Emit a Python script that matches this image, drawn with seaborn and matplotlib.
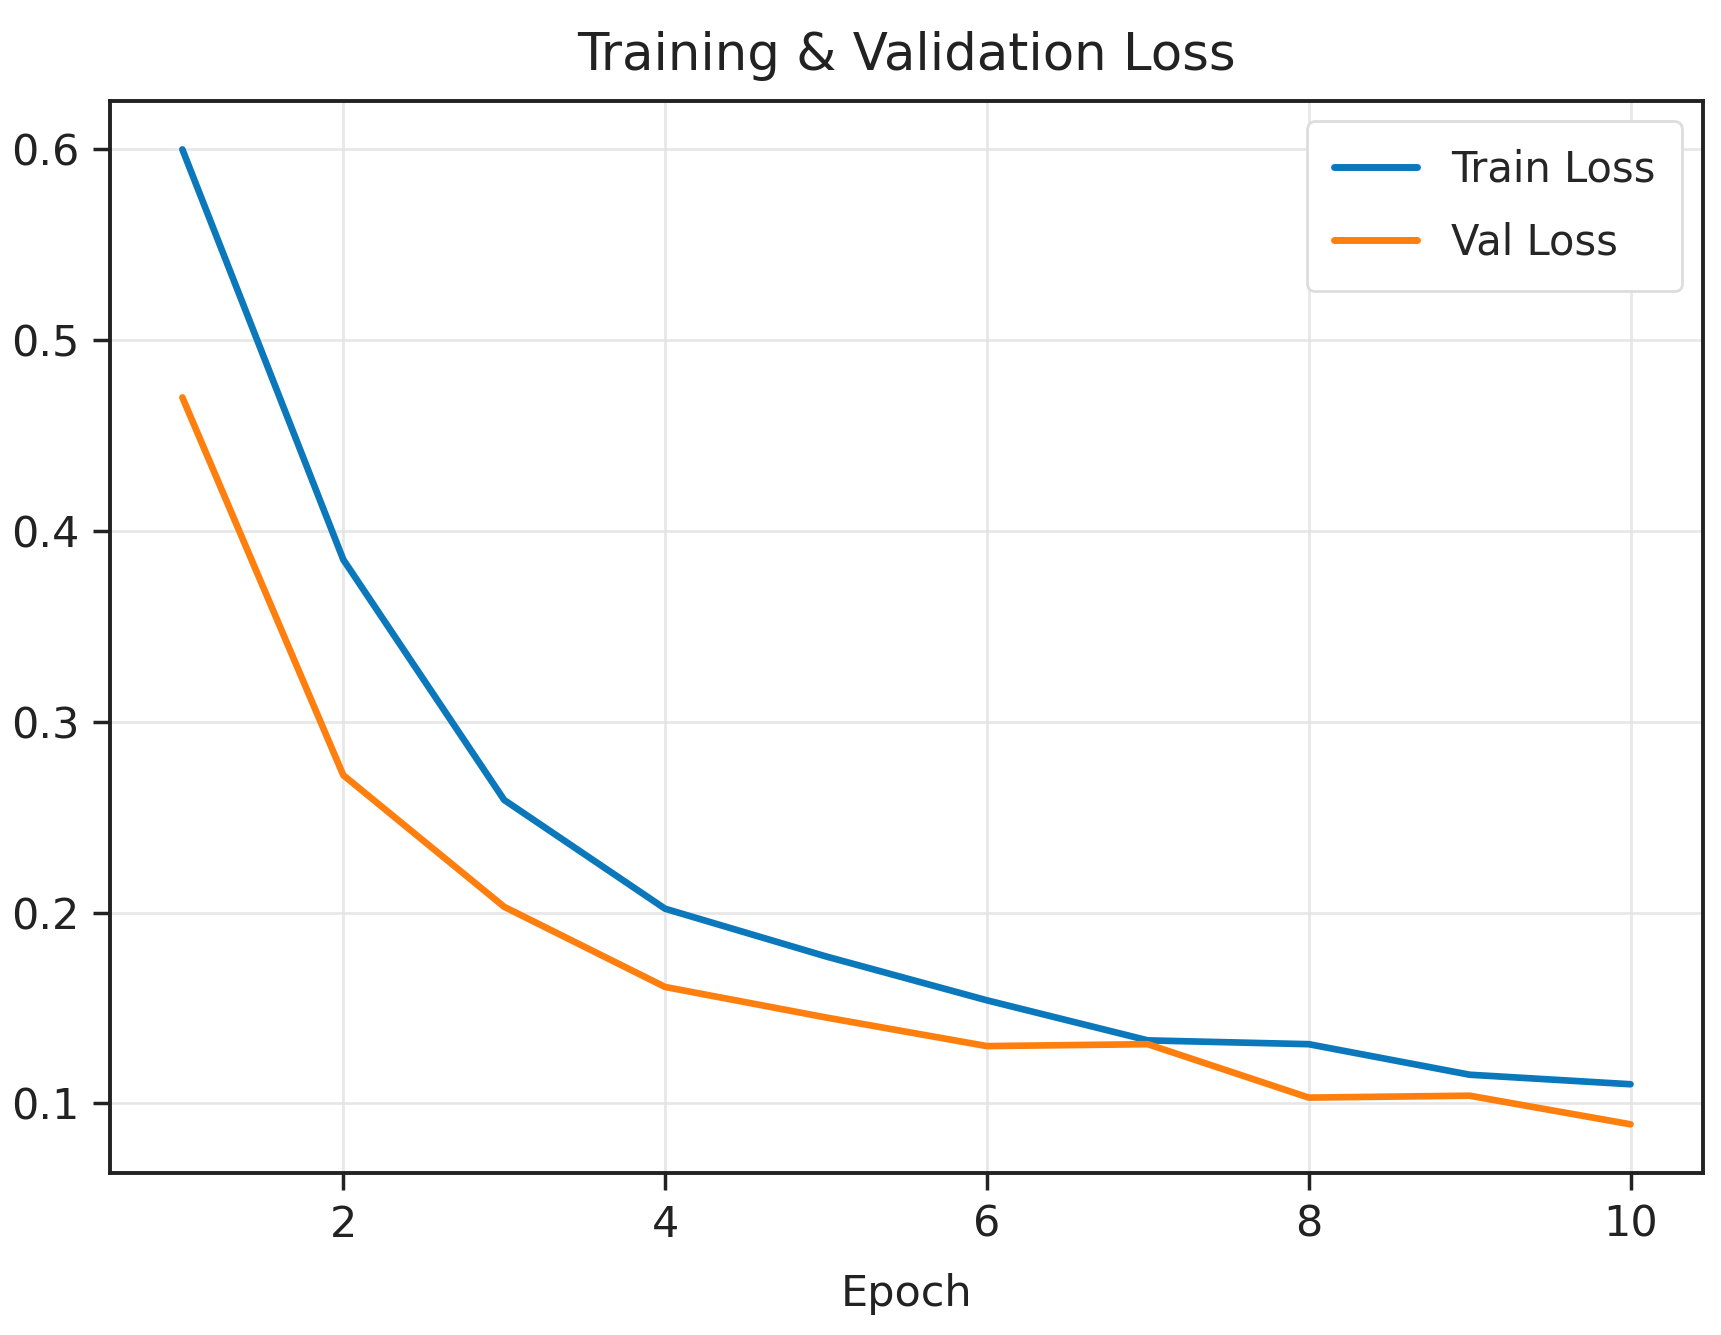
import numpy as np
import pandas as pd
import matplotlib
matplotlib.use("Agg")
import matplotlib.pyplot as plt
import seaborn as sns

### -------------------- ###
###  Data
### -------------------- ###
epochs = [1, 2, 3, 4, 5, 6, 7, 8, 9, 10]
train_loss = [0.600, 0.385, 0.259, 0.202, 0.177, 0.154, 0.133, 0.131, 0.115, 0.110]
val_loss = [0.470, 0.272, 0.203, 0.161, 0.145, 0.130, 0.131, 0.103, 0.104, 0.089]
series_names = ["Train Loss", "Val Loss"]
series_colors = ["#0A78BA", "#FF7F0E"]

df = pd.DataFrame({
    "Epoch": epochs * 2,
    "Loss": train_loss + val_loss,
    "Series": [series_names[0]] * len(epochs) + [series_names[1]] * len(epochs),
})

### -------------------- ###
###  Plot
### -------------------- ###
sns.set_theme(style="ticks")
plt.rcParams["font.family"] = ["DejaVu Sans"]

fig = plt.figure(figsize=(17.21, 13.35), dpi=100)
ax = fig.add_axes([0.0639, 0.1213, 0.9256, 0.8033])

sns.lineplot(data=df, x="Epoch", y="Loss", hue="Series",
             palette=dict(zip(series_names, series_colors)),
             linewidth=4.8, ax=ax)

ax.set_yticks([0.1, 0.2, 0.3, 0.4, 0.5, 0.6])
ax.set_xticks([2, 4, 6, 8, 10])
ax.grid(True, color="#e2e2e2", alpha=0.8, linewidth=2)

for side in ax.spines.values():
    side.set_color("#222222")
    side.set_linewidth(2.8)
ax.tick_params(axis="both", length=12, width=2.5, color="#222222",
               labelsize=31, labelcolor="#222222", pad=10)

ax.set_title("Training & Validation Loss", fontsize=37, pad=22, color="#222222")
ax.set_xlabel("Epoch", fontsize=31, labelpad=20, color="#222222")
ax.set_ylabel("")

leg = ax.legend(fontsize=30, loc="upper right", handlelength=2.0,
                borderpad=0.65, labelspacing=0.75, framealpha=1,
                edgecolor="#dddddd", fancybox=True)
for line in leg.get_lines():
    line.set_linewidth(5)
leg.get_frame().set_linewidth(2)

fig.savefig("out.png", dpi=100)
